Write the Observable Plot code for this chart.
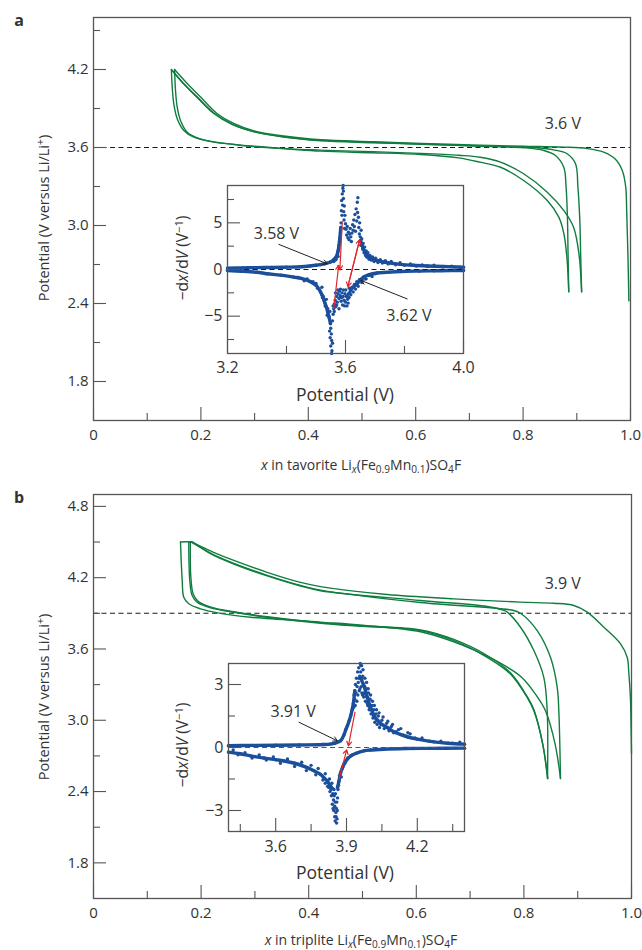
<!DOCTYPE html>
<html><head><meta charset="utf-8">
<script src="https://cdn.jsdelivr.net/npm/d3@7"></script>
<script src="https://cdn.jsdelivr.net/npm/@observablehq/plot@0.6"></script>
<style>
body{margin:0;background:#fff;}
#wrap{position:relative;width:642px;height:950px;font-family:"Open Sans","Noto Sans",sans-serif;color:#333;overflow:hidden;}
#wrap > *{position:absolute;}
.lbl{white-space:nowrap;transform:translate(-50%,-50%);line-height:1;}
.rot{white-space:nowrap;transform:translate(-50%,-50%) rotate(-90deg);line-height:1;}
sub{font-size:0.72em;vertical-align:-0.3em;line-height:0;}
sup{font-size:0.72em;vertical-align:0.45em;line-height:0;}
</style></head><body><div id="wrap"></div>
<script>
// ---------------- DATA ----------------
// Panel a: tavorite, [x, potential V]
const aCharge1 = [[0.997,2.42],[0.995,2.81],[0.993,3.10],[0.991,3.30],[0.985,3.42],[0.972,3.51],[0.95,3.565],[0.919,3.592],[0.876,3.603],[0.80,3.61],[0.72,3.618],[0.61,3.632],[0.52,3.645],[0.423,3.66],[0.354,3.688],[0.299,3.728],[0.261,3.785],[0.23,3.862],[0.199,3.99],[0.175,4.09],[0.151,4.2]];
const aDischarge1 = [[0.151,4.2],[0.1527,4.04],[0.1559,3.91],[0.162,3.808],[0.1745,3.718],[0.199,3.667],[0.261,3.623],[0.33,3.597],[0.423,3.58],[0.52,3.568],[0.609,3.555],[0.68,3.54],[0.72,3.525],[0.758,3.487],[0.801,3.398],[0.845,3.256],[0.876,3.115],[0.894,2.987],[0.904,2.782],[0.909,2.49]];
const aCharge2 = [[0.909,2.49],[0.907,2.81],[0.9056,3.04],[0.902,3.30],[0.8976,3.475],[0.882,3.552],[0.857,3.582],[0.826,3.598],[0.76,3.607],[0.68,3.617],[0.609,3.627],[0.52,3.64],[0.423,3.655],[0.354,3.683],[0.299,3.722],[0.258,3.78],[0.224,3.865],[0.193,3.99],[0.168,4.09],[0.145,4.2]];
const aDischarge2 = [[0.145,4.2],[0.1466,4.064],[0.1495,3.936],[0.1559,3.821],[0.1682,3.731],[0.1868,3.679],[0.224,3.641],[0.3235,3.602],[0.423,3.572],[0.52,3.56],[0.609,3.546],[0.68,3.52],[0.72,3.487],[0.758,3.448],[0.801,3.346],[0.845,3.192],[0.8665,3.064],[0.876,2.936],[0.882,2.731],[0.885,2.49]];
const aCharge3 = [[0.885,2.49],[0.8836,2.81],[0.8827,3.04],[0.880,3.30],[0.8758,3.448],[0.8603,3.538],[0.8386,3.577],[0.801,3.598],[0.72,3.61],[0.609,3.625],[0.52,3.637],[0.423,3.652],[0.354,3.68],[0.299,3.72],[0.258,3.778],[0.224,3.862],[0.193,3.985],[0.168,4.09],[0.147,4.19]];
const aRefV = 3.6;

// Panel b: triplite
const bCharge1 = [[1.0,2.72],[0.999,3.0],[0.998,3.19],[0.995,3.40],[0.992,3.53],[0.9796,3.643],[0.9485,3.783],[0.9177,3.91],[0.8928,3.966],[0.8556,3.985],[0.7937,3.994],[0.6697,4.022],[0.5459,4.058],[0.4219,4.125],[0.3848,4.16],[0.3228,4.245],[0.2608,4.345],[0.22,4.42],[0.186,4.49],[0.18,4.5],[0.1617,4.5]];
const bDischarge1 = [[0.1617,4.5],[0.1649,4.176],[0.1678,4.036],[0.1771,3.98],[0.1989,3.938],[0.236,3.90],[0.2918,3.867],[0.4219,3.826],[0.5,3.80],[0.6078,3.745],[0.6697,3.66],[0.74,3.52],[0.7936,3.37],[0.8215,3.22],[0.8401,3.08],[0.858,2.80],[0.868,2.51]];
const bCharge2 = [[0.868,2.51],[0.8649,3.08],[0.8619,3.277],[0.8494,3.53],[0.8247,3.755],[0.7937,3.901],[0.7812,3.924],[0.6078,3.991],[0.4219,4.095],[0.3848,4.135],[0.3228,4.22],[0.2608,4.32],[0.22,4.40],[0.186,4.488],[0.182,4.5],[0.1771,4.5]];
const bDischarge2 = [[0.1771,4.5],[0.179,4.176],[0.1834,4.05],[0.1927,3.994],[0.2175,3.946],[0.2608,3.909],[0.3228,3.867],[0.4219,3.817],[0.5,3.79],[0.6078,3.755],[0.6697,3.671],[0.7318,3.53],[0.775,3.39],[0.806,3.193],[0.8185,3.08],[0.835,2.80],[0.8439,2.51]];
const bCharge3 = [[0.8439,2.51],[0.8433,3.08],[0.837,3.361],[0.8185,3.587],[0.7937,3.783],[0.769,3.91],[0.7597,3.929],[0.7318,3.957],[0.6078,4.008],[0.4219,4.09],[0.3848,4.13],[0.3228,4.215],[0.2608,4.315],[0.22,4.395],[0.188,4.49],[0.184,4.5],[0.18,4.5]];
const bDischarge3 = [[0.18,4.5],[0.181,4.2],[0.1855,4.06],[0.195,4.0],[0.22,3.95],[0.2608,3.913],[0.3228,3.872],[0.4219,3.822],[0.5,3.795],[0.6078,3.76],[0.6697,3.68],[0.7318,3.545],[0.775,3.40],[0.806,3.20],[0.8185,3.09],[0.835,2.80],[0.8445,2.51]];
const bRefV = 3.9;

// Inset a: [potential V, -dx/dV]
const insAUpLeft = [[3.20,0.15],[3.25,0.17],[3.30,0.2],[3.35,0.22],[3.40,0.25],[3.45,0.3],[3.48,0.38],[3.50,0.45],[3.515,0.52],[3.53,0.62],[3.549,0.8],[3.56,1.05],[3.566,1.25],[3.572,1.6],[3.575,2.0],[3.578,2.6],[3.581,3.4],[3.584,4.5]];
const insAUpScatter = [[3.585,5.0],[3.586,6.3],[3.587,7.4],[3.588,5.8],[3.589,8.1],[3.59,6.9],[3.591,8.7],[3.592,9.0],[3.593,7.6],[3.594,6.2],[3.595,5.3],[3.593,8.4],[3.596,6.8],[3.598,5.8],[3.6,4.9],[3.597,4.4],
  [3.602,4.3],[3.604,3.7],[3.606,4.6],[3.608,3.4],[3.61,4.0],[3.612,3.2],[3.614,3.8],[3.616,4.4],[3.618,3.5],[3.62,3.0],[3.622,3.9],[3.624,4.8],
  [3.626,4.2],[3.628,5.3],[3.63,4.6],[3.632,5.9],[3.634,4.1],[3.636,6.5],[3.638,5.2],[3.64,7.2],[3.642,7.7],[3.641,6.1],[3.644,5.6],[3.645,4.5],[3.647,3.8],[3.648,5.0],[3.65,3.5],[3.653,4.2],
  [3.56,0.85],[3.565,1.0],[3.57,1.35],[3.573,1.8],[3.577,2.3],[3.58,3.0],[3.583,3.9],[3.575,1.4],[3.568,1.1],
  [3.652,2.6],[3.655,3.3],[3.658,2.2],[3.66,2.8],[3.663,1.8],[3.665,2.4],[3.668,1.5],[3.67,2.0],[3.673,1.3],[3.676,1.8],[3.68,1.1],[3.683,1.5],[3.688,1.0],[3.692,1.35],[3.697,0.85],[3.702,1.2],[3.71,0.75],[3.718,1.05],[3.725,0.7],[3.735,0.95],[3.745,0.6],[3.755,0.85],[3.77,0.5],[3.785,0.72],[3.8,0.45],[3.82,0.6],[3.84,0.38],[3.86,0.5],[3.88,0.33],[3.9,0.45],[3.93,0.28],[3.96,0.36],[3.99,0.22]];
const insAUpRight = [[3.651,3.1],[3.656,2.6],[3.662,2.1],[3.668,1.75],[3.674,1.5],[3.685,1.25],[3.696,1.05],[3.715,0.9],[3.73,0.8],[3.76,0.65],[3.786,0.55],[3.83,0.45],[3.877,0.38],[3.93,0.32],[3.97,0.28],[4.0,0.25]];
const insADownLeft = [[3.20,-0.1],[3.25,-0.18],[3.30,-0.3],[3.334,-0.45],[3.38,-0.6],[3.425,-0.82],[3.45,-0.95],[3.481,-1.3],[3.50,-1.7],[3.51,-2.1],[3.52,-2.7],[3.527,-3.3],[3.535,-4.0],[3.54,-4.6],[3.545,-5.2],[3.549,-5.8]];
const insADownScatter = [[3.55,-6.3],[3.552,-6.9],[3.548,-7.3],[3.553,-7.6],[3.55,-8.2],[3.554,-8.7],[3.553,-9.0],[3.546,-6.6],[3.556,-7.9],[3.538,-4.9],[3.531,-3.9],[3.522,-3.0],
  [3.556,-5.5],[3.558,-4.8],[3.56,-4.2],[3.562,-3.7],[3.565,-3.3],[3.567,-4.0],[3.57,-2.9],[3.572,-3.5],[3.575,-2.6],[3.578,-3.1],[3.58,-2.3],[3.582,-2.8],[3.585,-3.4],[3.588,-2.5],[3.59,-3.8],[3.592,-2.9],[3.595,-3.3],[3.598,-2.6],[3.6,-3.5],[3.603,-2.9],[3.605,-3.9],[3.607,-3.2],[3.61,-2.6],[3.612,-3.0],[3.615,-2.4],
  [3.558,-3.9],[3.562,-4.5],[3.566,-2.5],[3.57,-3.8],[3.574,-2.2],[3.578,-4.2],[3.583,-2.1],[3.587,-3.0],[3.593,-2.2],[3.597,-3.9],[3.601,-2.2],[3.606,-2.8],[3.609,-3.6],[3.613,-2.0],[3.618,-2.7],[3.622,-1.9],[3.626,-2.4],[3.63,-1.6],[3.634,-2.1],[3.638,-1.3],[3.643,-1.8],[3.647,-1.1],[3.655,-1.4],[3.66,-0.9],[3.67,-1.0],[3.68,-0.65],[3.69,-0.75],[3.7,-0.45],
  [3.5,-1.5],[3.505,-2.0],[3.515,-2.4],[3.52,-1.9],[3.525,-2.9],[3.53,-3.6],[3.535,-3.2],[3.54,-4.2],[3.543,-5.0],[3.547,-4.5],[3.49,-1.3],[3.47,-1.0],[3.46,-1.2],[3.44,-0.85]];
const insADownRight = [[3.617,-2.2],[3.628,-1.85],[3.64,-1.5],[3.651,-1.1],[3.662,-0.8],[3.68,-0.55],[3.707,-0.38],[3.75,-0.28],[3.786,-0.22],[3.85,-0.17],[3.9,-0.14],[3.95,-0.12],[4.0,-0.1]];
const insARedArrows = [[3.589,5.1,3.581,-0.03],[3.560,-4.2,3.577,0.45],[3.608,-1.83,3.648,3.19],[3.648,3.19,3.608,-1.83]];
const insABlackArrows = [[3.374,2.69,3.538,0.61],[3.809,-3.15,3.653,-1.18]];
const insALabels = [{v:3.366,y:3.84,t:"3.58 V"},{v:3.815,y:-4.95,t:"3.62 V"}];

// Inset b
const insBUpLeft = [[3.40,0.08],[3.5,0.1],[3.6,0.11],[3.7,0.12],[3.8,0.14],[3.85,0.2],[3.875,0.32],[3.889,0.6],[3.897,0.85],[3.904,1.04],[3.912,1.3],[3.918,1.52],[3.924,1.8],[3.929,2.1],[3.935,2.7]];
const insBUpScatter = [[3.935,2.3],[3.938,3.0],[3.94,2.6],[3.942,3.3],[3.945,2.9],[3.947,3.6],[3.95,3.1],[3.952,3.8],[3.954,2.7],[3.956,3.4],[3.958,4.0],[3.96,3.6],[3.962,2.9],[3.964,3.9],[3.966,3.3],[3.968,2.5],[3.97,3.7],[3.972,3.0],[3.975,2.6],[3.978,3.3],[3.98,2.2],[3.983,2.8],[3.986,2.4],[3.99,2.0],[3.993,2.6],[3.996,1.8],[4.0,2.3],[4.004,1.6],[4.008,2.0],[4.012,1.4],[4.016,1.8],[4.02,1.2],[4.025,1.6],[4.03,1.1],[4.035,1.5],[4.04,0.95],[4.05,1.3],[4.06,0.9],[4.07,1.15],[4.08,0.8],[4.09,1.0],[4.1,0.7],[4.12,0.85],[4.14,0.6],[4.16,0.7],
  [3.93,1.9],[3.932,2.5],[3.937,2.0],[3.944,2.2],[3.948,2.5],[3.953,3.3],[3.957,2.8],[3.961,3.9],[3.965,2.6],[3.969,3.4],[3.973,2.4],[3.977,2.9],[3.982,2.5],[3.985,3.1],[3.988,2.1],[3.992,2.8],[3.995,2.3],[3.998,1.9],[4.002,2.5],[4.006,1.8],[4.01,2.2],[4.014,1.5],[4.018,2.0],[4.022,1.4],[4.027,1.8],[4.033,1.3],[4.038,1.65],[4.045,1.1],[4.055,1.45],[4.065,1.0],[4.075,1.25],[4.085,0.85],[4.095,1.1],[4.11,0.75],[4.13,0.9],[4.15,0.55],[4.17,0.65],[4.19,0.45],[4.22,0.45],[4.25,0.3],[4.3,0.3],[4.35,0.2],[4.38,0.25]];
const insBUpRight = [[3.96,3.3],[3.975,2.9],[3.988,2.4],[4.002,1.9],[4.016,1.55],[4.03,1.3],[4.05,1.1],[4.073,0.95],[4.1,0.75],[4.129,0.62],[4.16,0.5],[4.2,0.4],[4.27,0.27],[4.33,0.2],[4.4,0.16]];
const insBDownLeft = [[3.40,-0.22],[3.45,-0.3],[3.494,-0.4],[3.55,-0.5],[3.6,-0.58],[3.635,-0.64],[3.68,-0.75],[3.734,-0.96],[3.76,-1.1],[3.79,-1.28],[3.805,-1.45],[3.819,-1.6],[3.83,-1.8],[3.84,-1.95]];
const insBDownScatter = [[3.842,-2.2],[3.845,-2.5],[3.848,-2.3],[3.85,-2.8],[3.852,-2.6],[3.855,-3.1],[3.857,-2.9],[3.86,-3.4],[3.858,-3.6],[3.862,-2.4],[3.864,-2.0],[3.836,-2.3],[3.84,-2.7],[3.846,-3.0],[3.85,-3.3],[3.83,-2.1],[3.825,-1.9],[3.81,-1.7],
  [3.42,-0.12],[3.44,-0.35],[3.47,-0.25],[3.5,-0.5],[3.53,-0.35],[3.56,-0.6],[3.59,-0.45],[3.62,-0.75],[3.65,-0.55],[3.68,-0.9],[3.71,-0.7],[3.73,-1.1],[3.75,-0.85],[3.77,-1.3],[3.78,-1.0],[3.8,-1.55],[3.81,-1.25],[3.82,-1.85],[3.828,-1.5],[3.834,-2.0],[3.838,-1.7],[3.843,-2.9],[3.847,-2.0],[3.853,-2.2],[3.856,-3.3],[3.859,-2.6],[3.861,-3.0],[3.852,-3.5],[3.866,-1.8],[3.87,-1.35],[3.878,-1.4],[3.885,-0.9],[3.893,-0.75],[3.905,-0.5],[3.925,-0.35]];
const insBDownRight = [[3.862,-1.9],[3.868,-1.6],[3.875,-1.2],[3.882,-1.0],[3.889,-0.8],[3.9,-0.6],[3.918,-0.4],[3.94,-0.28],[3.974,-0.16],[4.0,-0.12],[4.058,-0.08],[4.15,-0.05],[4.25,-0.04],[4.4,-0.03]];
const insBRedArrows = [[3.936,1.68,3.908,0.08],[3.868,-1.52,3.901,-0.11]];
const insBBlackArrows = [[3.699,1.2,3.861,0.32]];
const insBLabels = [{v:3.674,y:1.68,t:"3.91 V"}];

// tick values
const mainXMajor = [0,0.2,0.4,0.6,0.8,1.0], mainXMinor = [0.1,0.3,0.5,0.7,0.9];
const aYMajor = [1.8,2.4,3.0,3.6,4.2], aYMinor = [2.1,2.7,3.3,3.9,4.5];
const bYMajor = [1.8,2.4,3.0,3.6,4.2,4.8], bYMinor = [2.1,2.7,3.3,3.9,4.5];
const insAXMajor = [3.2,3.6,4.0], insAXMinor = [3.4,3.8], insAYMajor = [-5,0,5], insAYMinor = [-7.5,-2.5,2.5,7.5];
const insBXMajor = [3.6,3.9,4.2], insBXMinor = [3.45,3.75,4.05,4.35], insBYMajor = [-3,0,3], insBYMinor = [-1.5,1.5];

// ---------------- STYLE ----------------
const FONT = '"Open Sans","Noto Sans",sans-serif';
const INK = "#333", AX = "#555", GREEN = "#0f7d3f", BLUE = "#1b4f9b", RED = "#e3262b";
const fmt1 = d => d === 0 ? "0" : d.toFixed(1);
const fmtInt = d => d < 0 ? "\u2212" + (-d) : String(d);

function ticksMarks(xMaj, xMin, yMaj, yMin, xFmt, yFmt, xPad, yPad) {
  return [
    Plot.axisX(xMaj, {tickSize: 13, dy: -13, text: null, label: null, stroke: AX, strokeWidth: 1.1}),
    Plot.axisX(xMin, {tickSize: 7, dy: -7, text: null, label: null, stroke: AX, strokeWidth: 1.1}),
    Plot.axisX(xMaj, {tickSize: 0, tickPadding: xPad, tickFormat: xFmt, label: null, fill: INK}),
    Plot.axisY(yMaj, {tickSize: 13, dx: 13, text: null, label: null, stroke: AX, strokeWidth: 1.1}),
    Plot.axisY(yMin, {tickSize: 7, dx: 7, text: null, label: null, stroke: AX, strokeWidth: 1.1}),
    Plot.axisY(yMaj, {tickSize: 0, tickPadding: yPad, tickFormat: yFmt, label: null, fill: INK})
  ];
}

function mainPanel(o) {
  return Plot.plot({
    width: 642, height: o.height, marginLeft: 93, marginRight: o.mr, marginTop: o.mt, marginBottom: o.mb,
    style: {fontFamily: FONT, fontSize: "15px", background: "transparent", overflow: "visible"},
    x: {domain: [0, 1]},
    y: {domain: o.yDomain},
    marks: [
      Plot.ruleY([o.ref], {stroke: "#1a1a1a", strokeWidth: 1.1, strokeDasharray: "5,3.5"}),
      ...o.curves.map(c => Plot.line(c, {x: d => d[0], y: d => d[1], stroke: GREEN, strokeWidth: 1.4, curve: "catmull-rom"})),
      Plot.text([o.refLabel], {x: d => d.x, y: d => d.y, text: d => d.t, fill: INK, fontSize: 16}),
      Plot.frame({stroke: AX, strokeWidth: 1.3}),
      ...ticksMarks(mainXMajor, mainXMinor, o.yMajor, o.yMinor, fmt1, d => d.toFixed(1), 9, 5)
    ]
  });
}

function insetPanel(o) {
  const lineOpt = {x: d => d[0], y: d => d[1], stroke: BLUE, strokeWidth: 3.4, curve: "catmull-rom"};
  const dotOpt = {x: d => d[0], y: d => d[1], fill: BLUE, r: 1.7};
  return Plot.plot({
    width: 300, height: 235, marginLeft: 47, marginRight: 17, marginTop: 15, marginBottom: 52,
    style: {fontFamily: FONT, fontSize: "16px", background: "transparent", overflow: "visible"},
    x: {domain: o.xDomain},
    y: {domain: o.yDomain},
    marks: [
      ...o.lines.map(l => Plot.line(l, lineOpt)),
      ...o.lines.map(l => Plot.dot(l, dotOpt)),
      ...o.scatter.map(s => Plot.dot(s, dotOpt)),
      Plot.ruleY([0], {stroke: o.zeroColor, strokeWidth: 1.2, strokeDasharray: "5,3.5"}),
      Plot.arrow(o.red, {x1: d => d[0], y1: d => d[1], x2: d => d[2], y2: d => d[3], stroke: RED, strokeWidth: 1.2, headLength: 6}),
      Plot.arrow(o.black, {x1: d => d[0], y1: d => d[1], x2: d => d[2], y2: d => d[3], stroke: "#222", strokeWidth: 1, headLength: 7}),
      Plot.text(o.labels, {x: d => d.v, y: d => d.y, text: d => d.t, fill: INK, fontSize: 16}),
      Plot.frame({stroke: AX, strokeWidth: 1.3}),
      ...ticksMarks(o.xMajor, o.xMinor, o.yMajor, o.yMinor, d => d.toFixed(1), fmtInt, o.xPad, 5)
    ]
  });
}

// ---------------- BUILD ----------------
const wrap = document.getElementById("wrap");
function place(el, left, top) { el.style.left = left + "px"; el.style.top = top + "px"; wrap.appendChild(el); return el; }
function html(h, cls, x, y, size, weight) {
  const d = document.createElement("div");
  d.className = cls; d.innerHTML = h;
  d.style.fontSize = size + "px"; if (weight) d.style.fontWeight = weight;
  return place(d, x, y);
}

place(mainPanel({height: 460, mt: 17, mb: 40, mr: 12, yDomain: [1.5, 4.6], yMajor: aYMajor, yMinor: aYMinor,
  curves: [aCharge1, aDischarge1, aCharge2, aDischarge2, aCharge3], ref: aRefV,
  refLabel: {x: 0.874, y: 3.782, t: "3.6 V"}}), 0, 0);
place(mainPanel({height: 450, mt: 24, mb: 22, mr: 11, yDomain: [1.5, 4.9], yMajor: bYMajor, yMinor: bYMinor,
  curves: [bCharge1, bDischarge1, bCharge2, bDischarge2, bCharge3, bDischarge3], ref: bRefV,
  refLabel: {x: 0.8723, y: 4.149, t: "3.9 V"}}), 0, 470);

place(insetPanel({xDomain: [3.2, 4.0], yDomain: [-9, 9], xMajor: insAXMajor, xMinor: insAXMinor, yMajor: insAYMajor, yMinor: insAYMinor,
  lines: [insAUpLeft, insAUpRight, insADownLeft, insADownRight], scatter: [insAUpScatter, insADownScatter],
  red: insARedArrows, black: insABlackArrows, labels: insALabels, zeroColor: "#1a1a1a", xPad: 8}), 180, 170);
place(insetPanel({xDomain: [3.4, 4.4], yDomain: [-4, 4], xMajor: insBXMajor, xMinor: insBXMinor, yMajor: insBYMajor, yMinor: insBYMinor,
  lines: [insBUpLeft, insBUpRight, insBDownLeft, insBDownRight], scatter: [insBUpScatter, insBDownScatter],
  red: insBRedArrows, black: insBBlackArrows, labels: insBLabels, zeroColor: "#555", xPad: 9}), 181, 648);

// text labels
html("a", "lbl", 19, 20, 16, 700);
html("b", "lbl", 19, 497, 16, 700);
html("Potential (V versus Li/Li<sup>+</sup>)", "rot", 44, 218, 14.5);
html("Potential (V versus Li/Li<sup>+</sup>)", "rot", 44, 697, 14.5);
html("<i>x</i> in tavorite Li<sub><i>x</i></sub>(Fe<sub>0.9</sub>Mn<sub>0.1</sub>)SO<sub>4</sub>F", "lbl", 361, 465, 14);
html("<i>x</i> in triplite Li<sub><i>x</i></sub>(Fe<sub>0.9</sub>Mn<sub>0.1</sub>)SO<sub>4</sub>F", "lbl", 361, 940, 14);
html("\u2212d<i>x</i>/d<i>V</i> (V<sup>\u22121</sup>)", "rot", 183, 258, 15.5);
html("\u2212d<i>x</i>/d<i>V</i> (V<sup>\u22121</sup>)", "rot", 183, 745, 15.5);
html("Potential (V)", "lbl", 345, 395, 17.5);
html("Potential (V)", "lbl", 345, 873, 17.5);
</script></body></html>
